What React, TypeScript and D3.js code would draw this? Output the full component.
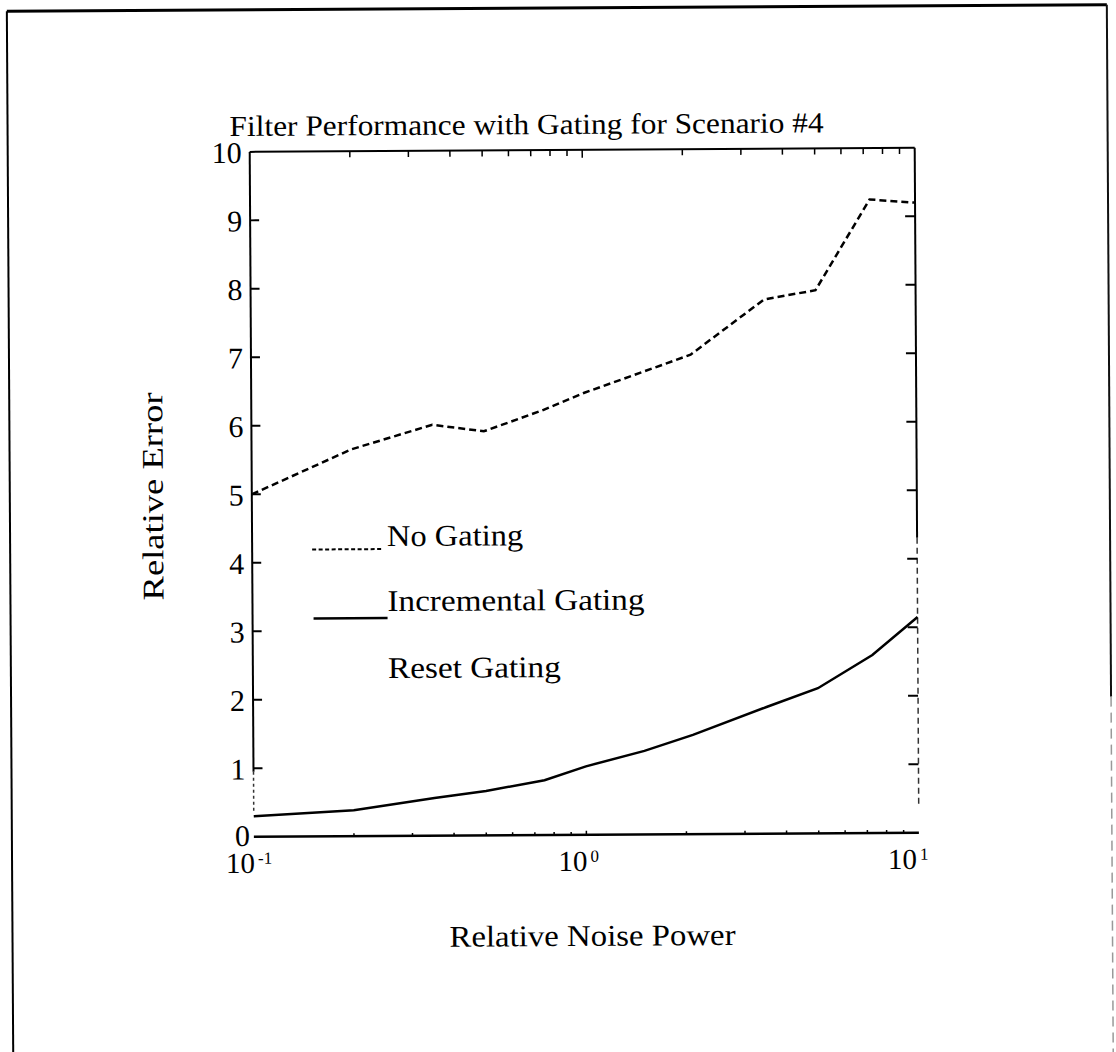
import React from 'react';
import * as d3 from 'd3';

// values
const noisePower = [0.1, 0.2, 0.35, 0.5, 0.75, 1.0, 1.5, 2.1, 3.5, 5.0, 7.3, 10];
const noGating = [5.0, 5.65, 6.0, 5.9, 6.2, 6.45, 6.75, 7.0, 7.8, 7.93, 9.25, 9.2];
const incrementalGating = [0.3, 0.38, 0.55, 0.65, 0.8, 1.0, 1.22, 1.45, 1.85, 2.12, 2.6, 3.15];
const yTicks = [0, 1, 2, 3, 4, 5, 6, 7, 8, 9, 10];
const xMajor = [0.1, 1, 10];
const xExponents = ['-1', '0', '1'];
const legendLabels = ['No Gating', 'Incremental Gating', 'Reset Gating'];

const W = 1116;
const H = 1052;
const FONT = '"Liberation Serif", "Times New Roman", serif';

const App: React.FC = () => {
  const x0 = 252, x1 = 917, y0 = 150, y1 = 835;

  const xScale = d3.scaleLog().domain([0.1, 10]).range([x0, x1]);
  const yScale = d3.scaleLinear().domain([0, 10]).range([y1, y0]);

  const minorTicks: number[] = [];
  [0.1, 1].forEach(base => {
    for (let k = 2; k <= 9; k++) minorTicks.push(base * k);
  });

  const line = d3.line<number>()
    .x((_, i) => xScale(noisePower[i]))
    .y(d => yScale(d));

  return (
    <div style={{ position: 'absolute', left: 0, top: 0 }}>
      <svg width={W} height={H} style={{ display: 'block', background: '#fff' }}>
        {/* the scan is slightly tilted */}
        <g transform="rotate(-0.35 558 526)">
          {/* page frame */}
          <line x1={10} y1={8} x2={1110} y2={8} stroke="#000" strokeWidth={3} />
          <line x1={10} y1={8} x2={10} y2={1070} stroke="#000" strokeWidth={2} />
          <line x1={1110} y1={8} x2={1110} y2={700} stroke="#111" strokeWidth={2} />
          <line x1={1110} y1={700} x2={1110} y2={1070} stroke="#999" strokeWidth={1.5} strokeDasharray="10 6" />

          {/* title */}
          <text x={232} y={134} fontFamily={FONT} fontSize={29} fill="#000"
            textLength={594} lengthAdjust="spacingAndGlyphs">
            Filter Performance with Gating for Scenario #4
          </text>

          {/* axes frame */}
          <line x1={x0} y1={y0} x2={x1} y2={y0} stroke="#000" strokeWidth={2} />
          <line x1={x0} y1={y1} x2={x1} y2={y1} stroke="#000" strokeWidth={2.5} />
          <line x1={x0} y1={y0} x2={x0} y2={770} stroke="#000" strokeWidth={2} />
          <line x1={x0} y1={770} x2={x0} y2={810} stroke="#333" strokeWidth={1.5} strokeDasharray="3 3" />
          <line x1={x1} y1={y0} x2={x1} y2={540} stroke="#000" strokeWidth={2} />
          <line x1={x1} y1={540} x2={x1} y2={808} stroke="#333" strokeWidth={1.5} strokeDasharray="6 4" />

          {/* y ticks */}
          {yTicks.map(t => (
            <g key={'yt' + t}>
              {t > 0 && t < 10 && (
                <>
                  <line x1={x0} x2={x0 + 9} y1={yScale(t)} y2={yScale(t)} stroke="#000" strokeWidth={2} />
                  <line x1={x1 - 10} x2={x1} y1={yScale(t)} y2={yScale(t)} stroke="#000" strokeWidth={2} />
                </>
              )}
              <text x={t === 0 ? 248 : 244} y={yScale(t) + (t === 0 ? 9 : 11)} textAnchor="end"
                fontFamily={FONT} fontSize={30} fill="#000">
                {t}
              </text>
            </g>
          ))}

          {/* x ticks */}
          {minorTicks.map(t => (
            <g key={'xt' + t}>
              <line x1={xScale(t)} x2={xScale(t)} y1={y0} y2={y0 + 6} stroke="#000" strokeWidth={1.5} />
              <line x1={xScale(t)} x2={xScale(t)} y1={y1} y2={y1 - 3} stroke="#000" strokeWidth={1.5} />
            </g>
          ))}
          {xMajor.map((t, i) => (
            <g key={'xm' + t}>
              {i === 1 && (
                <>
                  <line x1={xScale(t)} x2={xScale(t)} y1={y0} y2={y0 + 8} stroke="#000" strokeWidth={1.5} />
                  <line x1={xScale(t)} x2={xScale(t)} y1={y1} y2={y1 - 4} stroke="#000" strokeWidth={1.5} />
                </>
              )}
              <text x={xScale(t) + (i === 2 ? -2 : 1)} y={871} textAnchor="end"
                fontFamily={FONT} fontSize={29} fill="#000">
                10
              </text>
              <text x={xScale(t) + (i === 2 ? 1 : 4)} y={862} textAnchor="start"
                fontFamily={FONT} fontSize={17} fill="#000">
                {xExponents[i]}
              </text>
            </g>
          ))}

          {/* axis labels */}
          <text x={447} y={946} fontFamily={FONT} fontSize={30} fill="#000"
            textLength={286} lengthAdjust="spacingAndGlyphs">
            Relative Noise Power
          </text>
          <text transform="translate(163,598) rotate(-90)" fontFamily={FONT} fontSize={30} fill="#000"
            textLength={208} lengthAdjust="spacingAndGlyphs">
            Relative Error
          </text>

          {/* series */}
          <path d={line(noGating) || ''} fill="none" stroke="#000" strokeWidth={2.5} strokeDasharray="7 4" />
          <path d={line(incrementalGating) || ''} fill="none" stroke="#000" strokeWidth={2.5} />

          {/* legend */}
          <line x1={312} x2={383} y1={548} y2={548} stroke="#000" strokeWidth={2} strokeDasharray="4 2.5" />
          <line x1={313} x2={387} y1={617} y2={617} stroke="#000" strokeWidth={2.5} />
          {legendLabels.map((label, i) => (
            <text key={label} x={387} y={[545, 610, 677][i]} fontFamily={FONT} fontSize={30} fill="#000"
              textLength={[136, 257, 173][i]} lengthAdjust="spacingAndGlyphs">
              {label}
            </text>
          ))}
        </g>
      </svg>
    </div>
  );
};

export default App;
